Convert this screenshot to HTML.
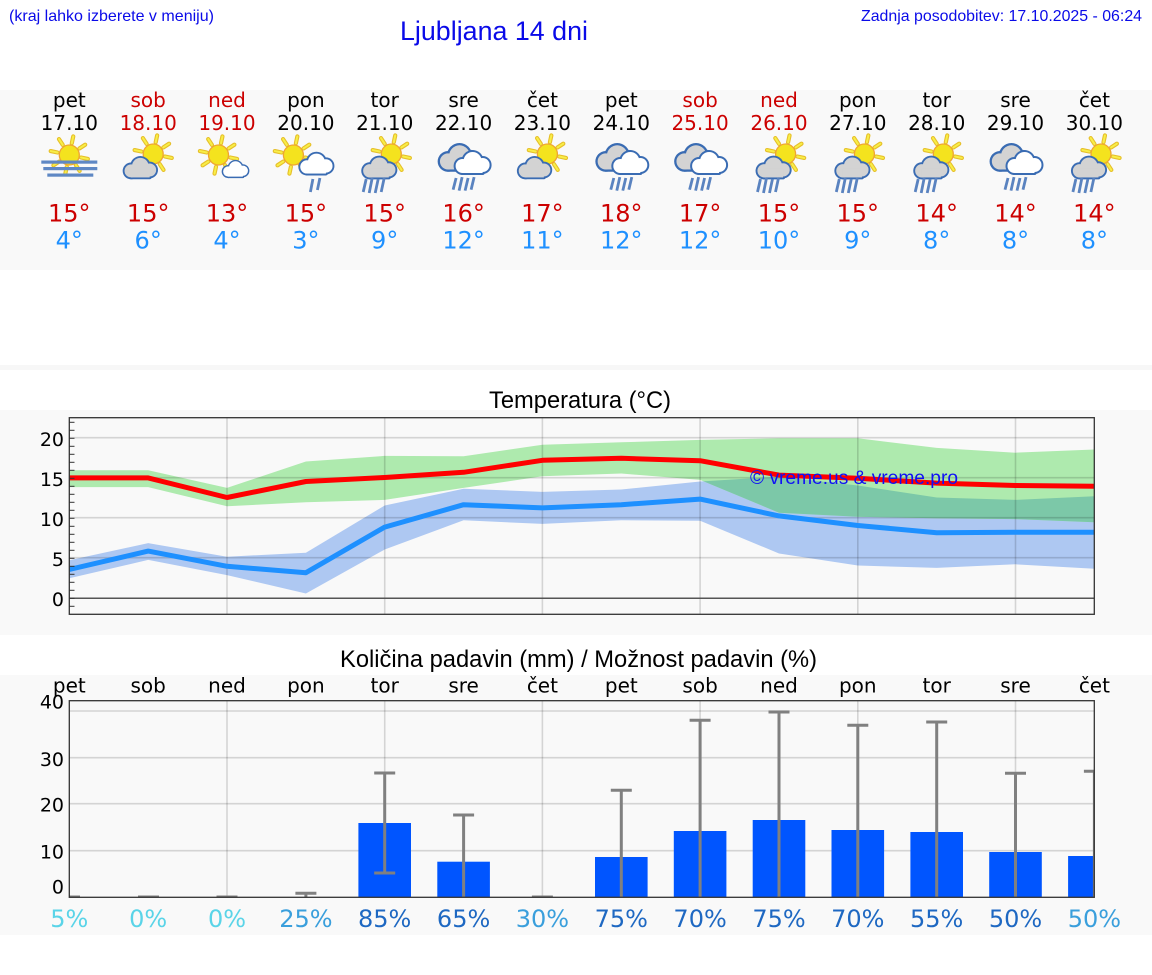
<!DOCTYPE html>
<html><head><meta charset="utf-8"><style>
html,body{margin:0;padding:0;background:#fff;}
svg{display:block;}
.h{font-family:"Liberation Sans",Arial,sans-serif;}
.d{font-family:"DejaVu Sans","Liberation Sans",sans-serif;}
</style></head><body>
<svg width="1152" height="975" viewBox="0 0 1152 975" xmlns="http://www.w3.org/2000/svg">
<defs>
<g id="sun">
 <g stroke="#e6bf2a" stroke-width="4.2" stroke-linecap="round" transform="rotate(12)">
  <line x1="12" y1="0" x2="19" y2="0"/><line x1="8.5" y1="8.5" x2="13.4" y2="13.4"/><line x1="0" y1="12" x2="0" y2="19"/><line x1="-8.5" y1="8.5" x2="-13.4" y2="13.4"/>
  <line x1="-12" y1="0" x2="-19" y2="0"/><line x1="-8.5" y1="-8.5" x2="-13.4" y2="-13.4"/><line x1="0" y1="-12" x2="0" y2="-19"/><line x1="8.5" y1="-8.5" x2="13.4" y2="-13.4"/>
 </g>
 <g stroke="#f8ee48" stroke-width="2" stroke-linecap="round" transform="rotate(12)">
  <line x1="12" y1="0" x2="19" y2="0"/><line x1="8.5" y1="8.5" x2="13.4" y2="13.4"/><line x1="0" y1="12" x2="0" y2="19"/><line x1="-8.5" y1="8.5" x2="-13.4" y2="13.4"/>
  <line x1="-12" y1="0" x2="-19" y2="0"/><line x1="-8.5" y1="-8.5" x2="-13.4" y2="-13.4"/><line x1="0" y1="-12" x2="0" y2="-19"/><line x1="8.5" y1="-8.5" x2="13.4" y2="-13.4"/>
 </g>
 <circle r="10" fill="#f4e31e" stroke="#efa532" stroke-width="1.3"/>
</g>
<g id="cg">
 <g fill="#3a6cb3"><circle cx="8" cy="14" r="9"/><circle cx="18" cy="9" r="11"/><circle cx="28" cy="13" r="9"/><rect x="6" y="10" width="24" height="13" rx="2"/></g>
 <g fill="#d3d3d3"><circle cx="8" cy="14" r="7"/><circle cx="18" cy="9" r="9"/><circle cx="28" cy="13" r="7"/><rect x="8" y="12" width="20" height="9"/></g>
</g>
<g id="cw">
 <g fill="#3a6cb3"><circle cx="8" cy="14" r="9"/><circle cx="18" cy="9" r="11"/><circle cx="28" cy="13" r="9"/><rect x="6" y="10" width="24" height="13" rx="2"/></g>
 <g fill="#ffffff"><circle cx="8" cy="14" r="7"/><circle cx="18" cy="9" r="9"/><circle cx="28" cy="13" r="7"/><rect x="8" y="12" width="20" height="9"/></g>
</g>
<g id="rain4" stroke="#5a83c0" stroke-width="2.8">
 <line x1="1.5" y1="0" x2="-1.5" y2="13"/><line x1="7.5" y1="-1" x2="4.5" y2="14"/><line x1="13.5" y1="0" x2="10.5" y2="14"/><line x1="19.5" y1="-1" x2="16.5" y2="13"/>
</g>
<g id="icA">
 <use href="#sun" transform="translate(0,155)"/>
 <rect x="-28" y="160.5" width="56" height="3.2" fill="#5f88c4"/>
 <rect x="-26" y="167" width="54" height="3.2" fill="#5f88c4"/>
 <rect x="-22" y="173.5" width="46" height="3.2" fill="#5f88c4"/>
</g>
<g id="icB">
 <use href="#sun" transform="translate(5,154)"/>
 <use href="#cg" transform="translate(-24.6,157.9) scale(0.93)"/>
</g>
<g id="icC">
 <use href="#sun" transform="translate(-8.5,155)"/>
 <use href="#cw" transform="translate(-4.6,161.3) scale(0.73)"/>
</g>
<g id="icD">
 <use href="#sun" transform="translate(-12.5,155)"/>
 <use href="#cw" transform="translate(-6.6,153.6) scale(0.95)"/>
 <g stroke="#5a83c0" stroke-width="2.8"><line x1="7" y1="179" x2="4.5" y2="192"/><line x1="14" y1="178" x2="11.5" y2="190"/></g>
</g>
<g id="icE">
 <use href="#sun" transform="translate(6.6,154)"/>
 <use href="#cg" transform="translate(-22.5,157.5) scale(0.95)"/>
 <use href="#rain4" transform="translate(-20,179)"/>
</g>
<g id="icF">
 <use href="#cg" transform="translate(-24.8,145.3) scale(1.15)"/>
 <use href="#cw" transform="translate(-9,152) scale(1.0)"/>
 <use href="#rain4" transform="translate(-9,178) scale(1,0.9)"/>
</g>
<clipPath id="tclip"><rect x="69.3" y="417.7" width="1025" height="196.6"/></clipPath>
<clipPath id="pclip"><rect x="69.3" y="700.7" width="1025" height="196.6"/></clipPath>
<clipPath id="bclip"><polygon points="69.3,560.3 148.2,543.1 227.0,556.7 305.9,552.7 384.7,505.5 463.6,488.7 542.4,491.9 621.3,489.5 700.1,481.5 779.0,476.7 857.8,485.5 936.7,497.5 1015.5,499.9 1094.4,496.3 1094.4,568.7 1015.5,564.3 936.7,567.9 857.8,565.5 779.0,553.5 700.1,520.7 621.3,520.3 542.4,523.9 463.6,520.3 384.7,549.5 305.9,593.5 227.0,575.1 148.2,559.9 69.3,578.3"/></clipPath>
</defs>

<!-- header -->
<text class="h" x="9" y="21" font-size="16" fill="#0a0ae8" textLength="205" lengthAdjust="spacingAndGlyphs">(kraj lahko izberete v meniju)</text>
<text class="h" x="400" y="40" font-size="27" fill="#0a0ae8" textLength="188" lengthAdjust="spacingAndGlyphs">Ljubljana 14 dni</text>
<text class="h" x="861" y="21" font-size="16" fill="#0a0ae8" textLength="281" lengthAdjust="spacingAndGlyphs">Zadnja posodobitev: 17.10.2025 - 06:24</text>

<!-- panels -->
<rect x="0" y="90" width="1152" height="180" fill="#f9f9f9"/>
<rect x="0" y="365" width="1152" height="5" fill="#f7f7f7"/>
<rect x="0" y="410" width="1152" height="225" fill="#f9f9f9"/>
<rect x="0" y="675" width="1152" height="260" fill="#f9f9f9"/>

<!-- forecast columns -->
<g class="d" font-size="20" text-anchor="middle">
 <text x="69.3" y="107">pet</text><text x="148.2" y="107" fill="#cc0000">sob</text><text x="227.0" y="107" fill="#cc0000">ned</text><text x="305.9" y="107">pon</text><text x="384.7" y="107">tor</text><text x="463.6" y="107">sre</text><text x="542.4" y="107">čet</text><text x="621.3" y="107">pet</text><text x="700.1" y="107" fill="#cc0000">sob</text><text x="779.0" y="107" fill="#cc0000">ned</text><text x="857.8" y="107">pon</text><text x="936.7" y="107">tor</text><text x="1015.5" y="107">sre</text><text x="1094.4" y="107">čet</text>
 <text x="69.3" y="130">17.10</text><text x="148.2" y="130" fill="#cc0000">18.10</text><text x="227.0" y="130" fill="#cc0000">19.10</text><text x="305.9" y="130">20.10</text><text x="384.7" y="130">21.10</text><text x="463.6" y="130">22.10</text><text x="542.4" y="130">23.10</text><text x="621.3" y="130">24.10</text><text x="700.1" y="130" fill="#cc0000">25.10</text><text x="779.0" y="130" fill="#cc0000">26.10</text><text x="857.8" y="130">27.10</text><text x="936.7" y="130">28.10</text><text x="1015.5" y="130">29.10</text><text x="1094.4" y="130">30.10</text>
</g>
<use href="#icA" transform="translate(69.3,0)"/>
<use href="#icB" transform="translate(148.2,0)"/>
<use href="#icC" transform="translate(227.0,0)"/>
<use href="#icD" transform="translate(305.9,0)"/>
<use href="#icE" transform="translate(384.7,0)"/>
<use href="#icF" transform="translate(463.6,0)"/>
<use href="#icB" transform="translate(542.4,0)"/>
<use href="#icF" transform="translate(621.3,0)"/>
<use href="#icF" transform="translate(700.1,0)"/>
<use href="#icE" transform="translate(779.0,0)"/>
<use href="#icE" transform="translate(857.8,0)"/>
<use href="#icE" transform="translate(936.7,0)"/>
<use href="#icF" transform="translate(1015.5,0)"/>
<use href="#icE" transform="translate(1094.4,0)"/>
<g class="d" font-size="24" text-anchor="middle" fill="#cc0000">
 <text x="69.3" y="221.5">15°</text><text x="148.2" y="221.5">15°</text><text x="227.0" y="221.5">13°</text><text x="305.9" y="221.5">15°</text><text x="384.7" y="221.5">15°</text><text x="463.6" y="221.5">16°</text><text x="542.4" y="221.5">17°</text><text x="621.3" y="221.5">18°</text><text x="700.1" y="221.5">17°</text><text x="779.0" y="221.5">15°</text><text x="857.8" y="221.5">15°</text><text x="936.7" y="221.5">14°</text><text x="1015.5" y="221.5">14°</text><text x="1094.4" y="221.5">14°</text>
</g>
<g class="d" font-size="24" text-anchor="middle" fill="#1e90ff">
 <text x="69.3" y="248.3">4°</text><text x="148.2" y="248.3">6°</text><text x="227.0" y="248.3">4°</text><text x="305.9" y="248.3">3°</text><text x="384.7" y="248.3">9°</text><text x="463.6" y="248.3">12°</text><text x="542.4" y="248.3">11°</text><text x="621.3" y="248.3">12°</text><text x="700.1" y="248.3">12°</text><text x="779.0" y="248.3">10°</text><text x="857.8" y="248.3">9°</text><text x="936.7" y="248.3">8°</text><text x="1015.5" y="248.3">8°</text><text x="1094.4" y="248.3">8°</text>
</g>

<!-- temperature chart -->
<text class="h" x="489" y="408" font-size="24" textLength="182" lengthAdjust="spacingAndGlyphs">Temperatura (°C)</text>
<g clip-path="url(#tclip)">
 <polygon fill="#aec8f2" points="69.3,560.3 148.2,543.1 227.0,556.7 305.9,552.7 384.7,505.5 463.6,488.7 542.4,491.9 621.3,489.5 700.1,481.5 779.0,476.7 857.8,485.5 936.7,497.5 1015.5,499.9 1094.4,496.3 1094.4,568.7 1015.5,564.3 936.7,567.9 857.8,565.5 779.0,553.5 700.1,520.7 621.3,520.3 542.4,523.9 463.6,520.3 384.7,549.5 305.9,593.5 227.0,575.1 148.2,559.9 69.3,578.3"/>
 <polygon fill="#aeeaae" points="69.3,470.3 148.2,470.3 227.0,487.9 305.9,461.5 384.7,455.9 463.6,456.3 542.4,444.7 621.3,442.3 700.1,439.9 779.0,438.3 857.8,438.3 936.7,447.9 1015.5,452.7 1094.4,449.5 1094.4,522.3 1015.5,519.1 936.7,518.3 857.8,516.7 779.0,512.7 700.1,479.9 621.3,473.5 542.4,476.3 463.6,487.9 384.7,499.9 305.9,502.3 227.0,506.3 148.2,487.1 69.3,487.1"/>
 <g clip-path="url(#bclip)">
 <polygon fill="#7cc8a8" points="69.3,470.3 148.2,470.3 227.0,487.9 305.9,461.5 384.7,455.9 463.6,456.3 542.4,444.7 621.3,442.3 700.1,439.9 779.0,438.3 857.8,438.3 936.7,447.9 1015.5,452.7 1094.4,449.5 1094.4,522.3 1015.5,519.1 936.7,518.3 857.8,516.7 779.0,512.7 700.1,479.9 621.3,473.5 542.4,476.3 463.6,487.9 384.7,499.9 305.9,502.3 227.0,506.3 148.2,487.1 69.3,487.1"/>
 </g>
 <g stroke="rgba(0,0,0,0.15)" stroke-width="1.6">
  <line x1="69" y1="437.7" x2="1095" y2="437.7"/><line x1="69" y1="477.7" x2="1095" y2="477.7"/><line x1="69" y1="517.7" x2="1095" y2="517.7"/><line x1="69" y1="557.7" x2="1095" y2="557.7"/>
  <line x1="227.0" y1="417" x2="227.0" y2="615"/><line x1="384.7" y1="417" x2="384.7" y2="615"/><line x1="542.4" y1="417" x2="542.4" y2="615"/><line x1="700.1" y1="417" x2="700.1" y2="615"/><line x1="857.8" y1="417" x2="857.8" y2="615"/><line x1="1015.5" y1="417" x2="1015.5" y2="615"/>
 </g>
 <line x1="69" y1="598.3" x2="1095" y2="598.3" stroke="#555" stroke-width="1.5"/>
 <polyline fill="none" stroke="#ff0000" stroke-width="5" stroke-linejoin="round" points="69.3,477.9 148.2,477.9 227.0,497.5 305.9,481.5 384.7,477.5 463.6,472.3 542.4,460.3 621.3,458.3 700.1,460.7 779.0,475.1 857.8,478.3 936.7,483.1 1015.5,485.5 1094.4,486.3"/>
 <polyline fill="none" stroke="#1e90ff" stroke-width="5" stroke-linejoin="round" points="69.3,569.5 148.2,551.1 227.0,566.3 305.9,572.7 384.7,527.1 463.6,504.7 542.4,507.9 621.3,504.7 700.1,499.1 779.0,515.9 857.8,525.5 936.7,532.7 1015.5,532.3 1094.4,532.3"/>
 <text class="h" x="750" y="484" font-size="19" fill="#1010f5" textLength="208" lengthAdjust="spacingAndGlyphs">© vreme.us &amp; vreme.pro</text>
</g>
<g stroke="#333" stroke-width="1">
 <line x1="69.3" y1="422.3" x2="74.5" y2="422.3"/><line x1="69.3" y1="430.3" x2="74.5" y2="430.3"/><line x1="69.3" y1="438.3" x2="74.5" y2="438.3"/><line x1="69.3" y1="446.3" x2="74.5" y2="446.3"/><line x1="69.3" y1="454.3" x2="74.5" y2="454.3"/><line x1="69.3" y1="462.3" x2="74.5" y2="462.3"/><line x1="69.3" y1="470.3" x2="74.5" y2="470.3"/><line x1="69.3" y1="478.3" x2="74.5" y2="478.3"/><line x1="69.3" y1="486.3" x2="74.5" y2="486.3"/><line x1="69.3" y1="494.3" x2="74.5" y2="494.3"/><line x1="69.3" y1="502.3" x2="74.5" y2="502.3"/><line x1="69.3" y1="510.3" x2="74.5" y2="510.3"/><line x1="69.3" y1="518.3" x2="74.5" y2="518.3"/><line x1="69.3" y1="526.3" x2="74.5" y2="526.3"/><line x1="69.3" y1="534.3" x2="74.5" y2="534.3"/><line x1="69.3" y1="542.3" x2="74.5" y2="542.3"/><line x1="69.3" y1="550.3" x2="74.5" y2="550.3"/><line x1="69.3" y1="558.3" x2="74.5" y2="558.3"/><line x1="69.3" y1="566.3" x2="74.5" y2="566.3"/><line x1="69.3" y1="574.3" x2="74.5" y2="574.3"/><line x1="69.3" y1="582.3" x2="74.5" y2="582.3"/><line x1="69.3" y1="590.3" x2="74.5" y2="590.3"/><line x1="69.3" y1="598.3" x2="74.5" y2="598.3"/><line x1="69.3" y1="606.3" x2="74.5" y2="606.3"/>
</g>
<rect x="69.3" y="417.7" width="1025" height="196.6" fill="none" stroke="#333" stroke-width="1.3"/>
<g class="d" font-size="19" text-anchor="end">
 <text x="64" y="446">20</text><text x="64" y="486">15</text><text x="64" y="526">10</text><text x="64" y="566">5</text><text x="64" y="606">0</text>
</g>

<!-- precipitation chart -->
<text class="h" x="340" y="667" font-size="24" textLength="477" lengthAdjust="spacingAndGlyphs">Količina padavin (mm) / Možnost padavin (%)</text>
<g class="d" font-size="20" text-anchor="middle">
 <text x="69.3" y="692.5">pet</text><text x="148.2" y="692.5">sob</text><text x="227.0" y="692.5">ned</text><text x="305.9" y="692.5">pon</text><text x="384.7" y="692.5">tor</text><text x="463.6" y="692.5">sre</text><text x="542.4" y="692.5">čet</text><text x="621.3" y="692.5">pet</text><text x="700.1" y="692.5">sob</text><text x="779.0" y="692.5">ned</text><text x="857.8" y="692.5">pon</text><text x="936.7" y="692.5">tor</text><text x="1015.5" y="692.5">sre</text><text x="1094.4" y="692.5">čet</text>
</g>
<g clip-path="url(#pclip)">
 <g stroke="rgba(0,0,0,0.15)" stroke-width="1.6">
  <line x1="69" y1="711" x2="1095" y2="711"/><line x1="69" y1="757.7" x2="1095" y2="757.7"/><line x1="69" y1="803.7" x2="1095" y2="803.7"/><line x1="69" y1="850.7" x2="1095" y2="850.7"/>
  <line x1="227.0" y1="700" x2="227.0" y2="898"/><line x1="384.7" y1="700" x2="384.7" y2="898"/><line x1="542.4" y1="700" x2="542.4" y2="898"/><line x1="700.1" y1="700" x2="700.1" y2="898"/><line x1="857.8" y1="700" x2="857.8" y2="898"/><line x1="1015.5" y1="700" x2="1015.5" y2="898"/>
 </g>
 <g fill="#0055ff">
  <rect x="358.4" y="823" width="52.6" height="75"/>
  <rect x="437.3" y="861.7" width="52.6" height="36.3"/>
  <rect x="595.0" y="857" width="52.6" height="41"/>
  <rect x="673.8" y="831" width="52.6" height="67"/>
  <rect x="752.7" y="820" width="52.6" height="78"/>
  <rect x="831.5" y="830" width="52.6" height="68"/>
  <rect x="910.4" y="832" width="52.6" height="66"/>
  <rect x="989.2" y="852" width="52.6" height="46"/>
  <rect x="1068.1" y="856" width="52.6" height="42"/>
 </g>
 <g stroke="#808080" stroke-width="3">
  <line x1="59" y1="897" x2="80" y2="897"/>
  <line x1="138" y1="897" x2="159" y2="897"/>
  <line x1="216.5" y1="897" x2="237.5" y2="897"/>
  <line x1="305.9" y1="893.3" x2="305.9" y2="897"/><line x1="295.4" y1="893.3" x2="316.4" y2="893.3"/>
  <line x1="384.7" y1="773" x2="384.7" y2="873"/><line x1="374.2" y1="773" x2="395.2" y2="773"/><line x1="374.2" y1="873" x2="395.2" y2="873"/>
  <line x1="463.6" y1="815" x2="463.6" y2="897"/><line x1="453.1" y1="815" x2="474.1" y2="815"/>
  <line x1="531.9" y1="897" x2="552.9" y2="897"/>
  <line x1="621.3" y1="790.3" x2="621.3" y2="897"/><line x1="610.8" y1="790.3" x2="631.8" y2="790.3"/>
  <line x1="700.1" y1="720.3" x2="700.1" y2="897"/><line x1="689.6" y1="720.3" x2="710.6" y2="720.3"/>
  <line x1="779.0" y1="712" x2="779.0" y2="897"/><line x1="768.5" y1="712" x2="789.5" y2="712"/>
  <line x1="857.8" y1="725.3" x2="857.8" y2="897"/><line x1="847.3" y1="725.3" x2="868.3" y2="725.3"/>
  <line x1="936.7" y1="722" x2="936.7" y2="897"/><line x1="926.2" y1="722" x2="947.2" y2="722"/>
  <line x1="1015.5" y1="773.3" x2="1015.5" y2="897"/><line x1="1005" y1="773.3" x2="1026" y2="773.3"/>
  <line x1="1094.4" y1="771.3" x2="1094.4" y2="897"/><line x1="1083.9" y1="771.3" x2="1104.9" y2="771.3"/>
 </g>
</g>
<rect x="69.3" y="700.7" width="1025" height="196.6" fill="none" stroke="#333" stroke-width="1.3"/>
<g class="d" font-size="19" text-anchor="end">
 <text x="64" y="708.3">40</text><text x="64" y="766">30</text><text x="64" y="811.7">20</text><text x="64" y="858.3">10</text><text x="64" y="893.3">0</text>
</g>
<g class="d" font-size="24" text-anchor="middle">
 <text x="69.3" y="927" fill="#5ad4e8">5%</text><text x="148.2" y="927" fill="#5ad4e8">0%</text><text x="227.0" y="927" fill="#5ad4e8">0%</text><text x="305.9" y="927" fill="#3a9fdc">25%</text><text x="384.7" y="927" fill="#1e68c2">85%</text><text x="463.6" y="927" fill="#1e68c2">65%</text><text x="542.4" y="927" fill="#3a9fdc">30%</text><text x="621.3" y="927" fill="#1e68c2">75%</text><text x="700.1" y="927" fill="#1e68c2">70%</text><text x="779.0" y="927" fill="#1e68c2">75%</text><text x="857.8" y="927" fill="#1e68c2">70%</text><text x="936.7" y="927" fill="#1e68c2">55%</text><text x="1015.5" y="927" fill="#1e68c2">50%</text><text x="1094.4" y="927" fill="#3a9fdc">50%</text>
</g>
</svg>
</body></html>
